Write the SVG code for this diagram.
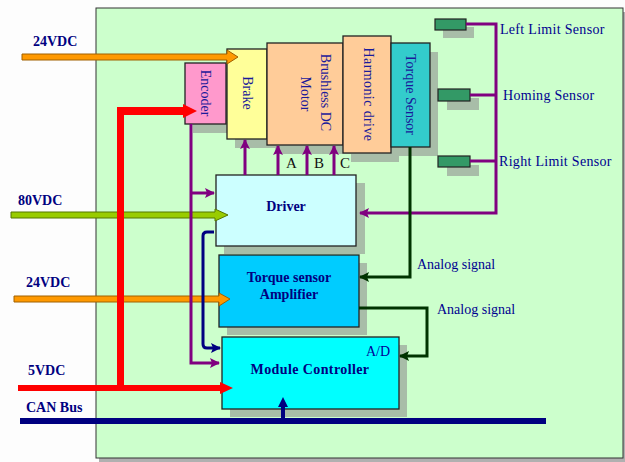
<svg xmlns="http://www.w3.org/2000/svg" width="625" height="462" viewBox="0 0 625 462">
<defs>
<style>
.sh{fill:#A8BDA8}
.box{stroke:#222;stroke-width:1.3}
.vt{font-family:"Liberation Serif","Times New Roman",serif;font-size:14px;fill:#1a1a9a;text-anchor:middle}
.bl{font-family:"Liberation Serif","Times New Roman",serif;font-size:14px;font-weight:bold;fill:#000080}
.bt{font-family:"Liberation Serif","Times New Roman",serif;font-size:14px;font-weight:bold;fill:#000080;text-anchor:middle}
.lb{font-family:"Liberation Serif","Times New Roman",serif;font-size:14px;fill:#000090}
.abc{font-family:"Liberation Serif","Times New Roman",serif;font-size:15px;fill:#111}
.sen{fill:#339966;stroke:#222;stroke-width:1.2}
.pu{fill:none;stroke:#800080;stroke-width:3}
.nv{fill:none;stroke:#000080;stroke-width:3}
.dg{fill:none;stroke:#003300;stroke-width:3}
</style>
<marker id="mp" markerUnits="userSpaceOnUse" markerWidth="10" markerHeight="10" viewBox="0 0 10 10" refX="9" refY="5" orient="auto"><path d="M0,0 L10,5 L0,10 L2,5 Z" fill="#800080"/></marker>
<marker id="mn" markerUnits="userSpaceOnUse" markerWidth="10" markerHeight="10" viewBox="0 0 10 10" refX="9" refY="5" orient="auto"><path d="M0,0 L10,5 L0,10 L2,5 Z" fill="#000080"/></marker>
<marker id="mg" markerUnits="userSpaceOnUse" markerWidth="10" markerHeight="10" viewBox="0 0 10 10" refX="9" refY="5" orient="auto"><path d="M0,0 L10,5 L0,10 L2,5 Z" fill="#003300"/></marker>
</defs>
<rect x="0" y="0" width="625" height="462" fill="#FDFDFD"/>
<g id="panel">
<rect x="99" y="12" width="526" height="450" fill="#B0B0B0"/>
<rect x="96" y="8" width="527" height="450" fill="#CCFFCC" stroke="#333" stroke-width="1"/>
</g>
<g id="encoder">
<rect class="sh" x="193" y="72" width="41" height="61"/>
<rect class="box" x="185" y="63" width="41" height="61" fill="#FF99CC"/>
<text class="vt" transform="translate(205.5,93) rotate(90)" y="4.5">Encoder</text>
</g>
<g id="brake">
<rect class="sh" x="235" y="58" width="40" height="90"/>
<rect class="box" x="227" y="49" width="40" height="90" fill="#FFFF99"/>
<text class="vt" transform="translate(247,93) rotate(90)" y="4.5">Brake</text>
</g>
<g id="motor">
<rect class="sh" x="275" y="52" width="76" height="102"/>
<rect class="box" x="267" y="43" width="76" height="102" fill="#FFCC99"/>
<text class="vt" transform="translate(325,92.5) rotate(90)" y="4.5">Brushless DC</text>
<text class="vt" transform="translate(305,94) rotate(90)" y="4.5">Motor</text>
</g>
<g id="harmonic">
<rect class="sh" x="351" y="45" width="48" height="117"/>
<rect class="box" x="343" y="36" width="48" height="117" fill="#FFCC99"/>
<text class="vt" transform="translate(368,94.5) rotate(90)" y="4.5" style="letter-spacing:0.4px">Harmonic drive</text>
</g>
<g id="torque-sensor">
<rect class="sh" x="399" y="52" width="39" height="104"/>
<rect class="box" x="391" y="43" width="39" height="104" fill="#33CCCC"/>
<text class="vt" transform="translate(410,94.5) rotate(90)" y="4.5">Torque Sensor</text>
</g>
<g id="left-limit-sensor">
<rect class="sh" x="443" y="27" width="31" height="11"/>
<rect class="sen" x="435" y="19" width="31" height="11"/>
<text class="lb" x="500" y="34" style="letter-spacing:0.3px">Left Limit Sensor</text>
</g>
<g id="homing-sensor">
<rect class="sh" x="447" y="98" width="32" height="12"/>
<rect class="sen" x="438" y="89" width="32" height="12"/>
<text class="lb" x="503" y="100" style="letter-spacing:0.3px">Homing Sensor</text>
</g>
<g id="right-limit-sensor">
<rect class="sh" x="447" y="165" width="32" height="11"/>
<rect class="sen" x="438" y="156" width="32" height="11"/>
<text class="lb" x="499" y="166" style="letter-spacing:0.3px">Right Limit Sensor</text>
</g>
<g id="driver">
<rect class="sh" x="224" y="183" width="141" height="71"/>
<rect class="box" x="216" y="175" width="140" height="71" fill="#CCFFFF"/>
<text class="bt" x="286" y="211">Driver</text>
</g>
<g id="amplifier">
<rect class="sh" x="227" y="263" width="140" height="72"/>
<rect class="box" x="219" y="255" width="140" height="72" fill="#00CCFF"/>
<text class="bt" x="289" y="282">Torque sensor</text>
<text class="bt" x="289" y="299">Amplifier</text>
</g>
<g id="module-controller">
<rect class="sh" x="230" y="345" width="177" height="72"/>
<rect class="box" x="222" y="337" width="177" height="72" fill="#00FFFF"/>
<text class="bt" x="310" y="374" style="letter-spacing:0.4px">Module Controller</text>
<text class="lb" x="366" y="356" style="fill:#000099">A/D</text>
</g>
<g id="connectors">
<polygon points="22,54 227,54 227,50 238,57 227,64 227,60 22,60" fill="#FF9900" stroke="#A06000" stroke-width="1"/>
<polygon points="11,212 215,212 215,209 228,215 215,221 215,218 11,218" fill="#99CC00" stroke="#557700" stroke-width="1"/>
<polygon points="14,296 219,296 219,293 230,299 219,306 219,302 14,302" fill="#FF9900" stroke="#A06000" stroke-width="1"/>
<path d="M117,391 V107 H183 V104 L197,111 L183,118 V115 H124 V391 Z" fill="#FF0000"/>
<path d="M18,385 H220 V382 L233,388 L220,394 V391 H18 Z" fill="#FF0000"/>
<path class="pu" d="M466,24 H496 V213 H360" marker-end="url(#mp)"/>
<path class="pu" d="M470,95 H496"/>
<path class="pu" d="M470,161 H496"/>
<path class="pu" d="M191,124 V363 H219" marker-end="url(#mp)"/>
<path class="pu" d="M191,193 H214" marker-end="url(#mp)"/>
<path class="pu" d="M245,175 V140" marker-end="url(#mp)"/>
<path class="pu" d="M278,175 V146" marker-end="url(#mp)"/>
<path class="pu" d="M307,175 V146" marker-end="url(#mp)"/>
<path class="pu" d="M334,175 V146" marker-end="url(#mp)"/>
<path class="nv" d="M214,232 H207 Q203,232 203,236 V344 Q203,348 207,348 H220" marker-end="url(#mn)"/>
<path class="dg" d="M410,147 V277 H360" marker-end="url(#mg)"/>
<path class="dg" d="M359,308 H427 V356 H400" marker-end="url(#mg)"/>
<path d="M20,418 H546 V424 H20 Z" fill="#000080"/>
<path d="M281,421 V407 H278 L283,397 L288,407 H285 V421 Z" fill="#000080"/>
<text class="abc" x="286" y="168">A</text>
<text class="abc" x="314" y="168">B</text>
<text class="abc" x="340" y="168">C</text>
<text class="lb" x="417" y="269">Analog signal</text>
<text class="lb" x="437" y="314">Analog signal</text>
</g>
<g id="power-labels">
<text class="bl" x="33" y="46">24VDC</text>
<text class="bl" x="18" y="205">80VDC</text>
<text class="bl" x="26" y="287">24VDC</text>
<text class="bl" x="28" y="375">5VDC</text>
<text class="bl" x="26" y="412">CAN Bus</text>
</g>
</svg>
